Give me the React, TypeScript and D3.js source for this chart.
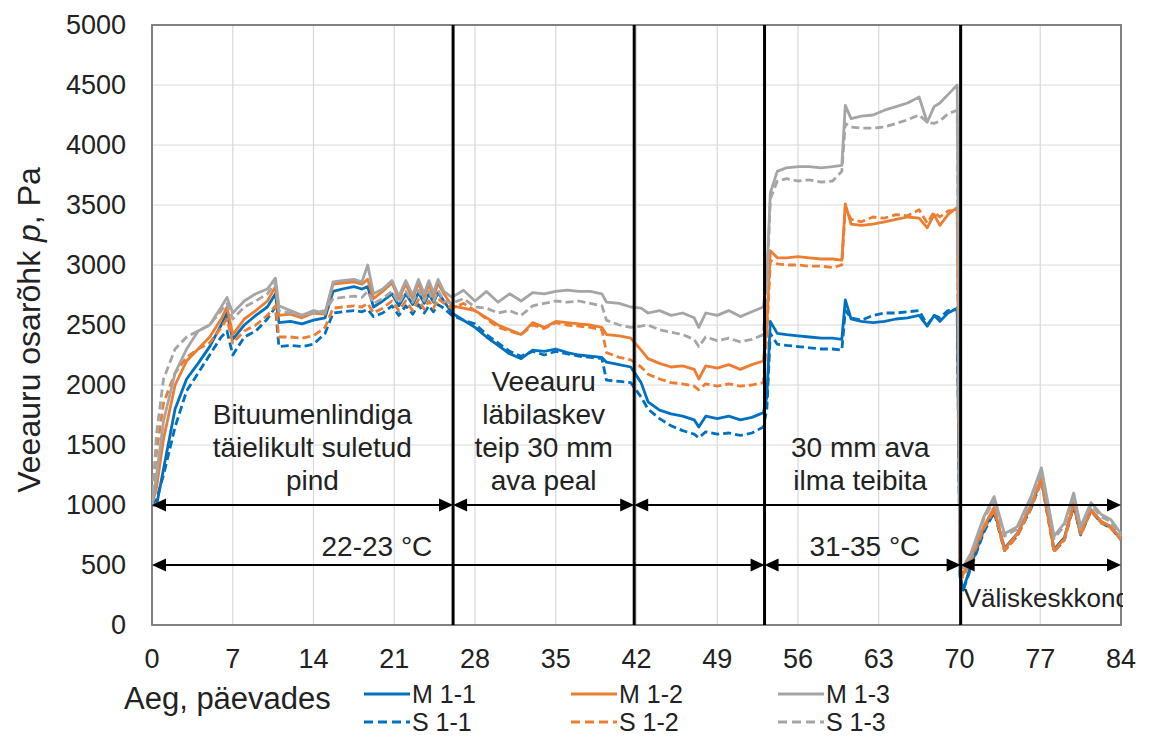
import React from 'react';
import * as d3 from 'd3';

// time axis, days (shared by every series)
const days = [
  0, 0.4, 1, 2, 3, 4, 5, 6, 6.5, 7,
  8, 9, 10, 10.7, 11, 12, 13, 14, 15, 15.7,
  16.5, 17.5, 18.2, 18.7, 19.2, 20, 20.8, 21.4, 22, 22.6,
  23.1, 23.6, 24, 24.4, 24.8, 25.3, 26, 27, 28, 29,
  30, 31, 32, 33, 34, 35, 36, 37, 38, 39,
  39.4, 40.5, 41.5, 42.4, 43, 44, 45, 46, 47, 47.4,
  48, 49, 50, 51, 52, 53, 53.3, 53.6, 54.2, 55,
  56, 57, 58, 59, 59.8, 60.1, 60.6, 61.5, 62.5, 63.5,
  64.5, 65.5, 66.5, 67.2, 67.8, 68.3, 69, 69.8, 70.05, 70.3,
  71, 72.1, 73, 73.9, 75, 76.2, 77.1, 77.7, 78.2, 79.1,
  79.9, 80.5, 81.4, 82.3, 83.1, 84,
];

const m11 = [
  1000, 1000, 1300, 1800, 2050, 2180, 2320, 2500, 2600, 2380,
  2500, 2580, 2650, 2760, 2520, 2530, 2510, 2540, 2560, 2780,
  2800, 2820, 2800, 2820, 2650, 2700, 2760, 2660, 2760, 2670,
  2770, 2680, 2760, 2690, 2770, 2700, 2600, 2540, 2480, 2400,
  2330, 2260, 2220, 2290, 2280, 2300, 2270, 2250, 2240, 2230,
  2190, 2170, 2150, 2020, 1860, 1790, 1760, 1740, 1710, 1650,
  1740, 1720, 1740, 1710, 1730, 1770, 1900, 2530, 2430, 2420,
  2410, 2400, 2390, 2390, 2380, 2710, 2550, 2530, 2520, 2530,
  2550, 2560, 2580, 2490, 2580, 2530, 2600, 2640, 420, 290,
  500, 790, 960, 640, 760, 990, 1220, 900, 630, 730,
  1010, 760, 960, 860, 820, 720,
];
const m12 = [
  1000, 1150, 1550, 2000, 2200, 2300, 2400, 2550, 2650, 2420,
  2550, 2620, 2700, 2820, 2580, 2590, 2560, 2600, 2590, 2840,
  2850, 2860, 2840, 2880, 2720, 2780, 2850, 2720, 2840, 2720,
  2850, 2730, 2840, 2730, 2850, 2760, 2660, 2640, 2620, 2560,
  2500, 2460, 2420, 2520, 2480, 2530, 2520, 2510, 2500, 2480,
  2420, 2410, 2390, 2290, 2220, 2180, 2150, 2160, 2130, 2050,
  2160, 2140, 2170, 2130, 2170, 2200, 2500, 3120, 3060, 3060,
  3070, 3060, 3050, 3050, 3040, 3510, 3340, 3330, 3340, 3360,
  3380, 3400, 3390, 3310, 3420, 3330, 3420, 3480, 470, 420,
  560, 820, 980, 630, 760, 1000, 1230, 900, 620, 720,
  1020, 760, 960, 860, 820, 720,
];
const m13 = [
  1000, 1250, 1700, 2100, 2300, 2450, 2500, 2650, 2730, 2600,
  2700, 2760, 2800, 2890, 2660, 2620, 2580, 2620, 2600, 2860,
  2870, 2880, 2860, 3000, 2760, 2800, 2870, 2740, 2870, 2750,
  2880, 2760, 2870, 2770, 2880, 2780, 2730, 2790, 2700, 2780,
  2690, 2760, 2700, 2770, 2760, 2780, 2790, 2780, 2780, 2760,
  2690, 2680, 2650, 2640, 2600, 2620, 2580, 2600, 2560, 2480,
  2600, 2580, 2620, 2570, 2610, 2650, 2900, 3600, 3780, 3810,
  3820, 3820, 3810, 3820, 3830, 4330, 4220, 4240, 4250, 4290,
  4320, 4350, 4400, 4190, 4320, 4350, 4420, 4500, 500, 480,
  600, 900, 1070, 760, 820, 1070, 1310, 1000, 740, 850,
  1100, 820, 1020, 920, 880, 760,
];
const s11 = [
  1000, 1050, 1250, 1650, 1950, 2100, 2250, 2400, 2450, 2250,
  2400, 2450, 2550, 2650, 2320, 2330, 2320, 2340, 2430, 2600,
  2610, 2620, 2610, 2630, 2570, 2600, 2660, 2580, 2660, 2590,
  2670, 2600, 2660, 2610, 2670, 2640, 2580, 2540, 2510, 2420,
  2350, 2280, 2240, 2280, 2250, 2280, 2260, 2240, 2230, 2220,
  2040, 2030, 2020, 1900, 1800, 1720, 1660, 1620, 1590, 1560,
  1610, 1590, 1600, 1580, 1600, 1650, 1800, 2430, 2340, 2330,
  2320, 2310, 2300, 2300, 2290, 2620, 2560, 2540, 2580, 2600,
  2600, 2610, 2620, 2500, 2580, 2560, 2620, 2630, 400, 280,
  480, 770, 940, 620, 740, 970, 1200, 880, 610, 710,
  990, 750, 950, 850, 810, 710,
];
const s12 = [
  1000, 1450, 1850, 2100, 2230, 2300, 2350, 2480, 2550, 2350,
  2450, 2500, 2580, 2660, 2400, 2400, 2390, 2410, 2480, 2640,
  2650, 2660, 2650, 2680, 2600, 2640, 2700, 2620, 2700, 2620,
  2710, 2630, 2700, 2640, 2720, 2680, 2640, 2680, 2620, 2550,
  2480, 2450, 2420, 2500, 2470, 2520, 2500, 2490, 2480, 2460,
  2270, 2230, 2210, 2150, 2090, 2050, 2020, 2010, 1990, 1960,
  2010, 1990, 2010, 1990, 2000, 2020, 2400, 3040, 3010, 3000,
  3000, 2990, 2990, 2980, 3000, 3480, 3380, 3360, 3400, 3390,
  3420, 3410, 3460, 3350, 3440, 3400, 3450, 3460, 460, 400,
  540, 800, 960, 620, 740, 980, 1200, 880, 610, 710,
  1000, 750, 950, 850, 810, 710,
];
const s13 = [
  1000, 1600, 2050, 2300, 2400, 2450, 2500, 2620, 2680, 2550,
  2650, 2700, 2760, 2850, 2620, 2600, 2580, 2600, 2620, 2720,
  2730, 2740, 2730, 2780, 2680, 2720, 2780, 2680, 2780, 2690,
  2790, 2700, 2780, 2700, 2790, 2700, 2680, 2720, 2650, 2640,
  2600, 2620, 2580, 2660, 2680, 2700, 2690, 2700, 2680, 2660,
  2540, 2500, 2480, 2490, 2500, 2460, 2440, 2420, 2380, 2320,
  2400, 2370, 2390, 2360, 2380, 2420, 2800, 3550, 3700, 3720,
  3700, 3710, 3690, 3700, 3780, 4180, 4150, 4140, 4140, 4150,
  4180, 4210, 4250, 4190, 4180, 4200, 4260, 4290, 480, 460,
  580, 880, 1040, 740, 800, 1040, 1280, 980, 720, 830,
  1080, 800, 1000, 900, 860, 740,
];

const seriesNames = ['M 1-1', 'M 1-2', 'M 1-3', 'S 1-1', 'S 1-2', 'S 1-3'];
const seriesValues = [m11, m12, m13, s11, s12, s13];
const seriesColors = ['#0070C0', '#ED7D31', '#A5A5A5', '#0070C0', '#ED7D31', '#A5A5A5'];
const drawOrder = [0, 3, 1, 4, 2, 5];

const xTickValues = [0, 7, 14, 21, 28, 35, 42, 49, 56, 63, 70, 77, 84];
const yTickValues = [0, 500, 1000, 1500, 2000, 2500, 3000, 3500, 4000, 4500, 5000];

// test phase boundaries (days)
const phaseBreaks = [26.1, 41.8, 53.1, 70.1];
// arrows: [from day, to day] at a pressure level
const upperArrows = [[0, 26.1], [26.1, 41.8], [41.8, 84]];
const lowerArrows = [[0, 53.1], [53.1, 70.1], [70.1, 84]];
const upperLevel = 1000;
const lowerLevel = 500;

const phaseLabels = [
  { day: 13.9, lines: ['Bituumenlindiga', 'täielikult suletud', 'pind'] },
  { day: 33.95, lines: ['Veeauru', 'läbilaskev', 'teip 30 mm', 'ava peal'] },
  { day: 61.4, lines: ['30 mm ava', 'ilma teibita'] },
];
const tempLabels = [
  { day: 19.5, text: '22-23 °C' },
  { day: 61.8, text: '31-35 °C' },
];

const W = 1149;
const H = 740;
const FONT = '"Liberation Sans", Arial, sans-serif';

export default function App() {
  const x = d3.scaleLinear().domain([0, 84]).range([152, 1121]);
  const y = d3.scaleLinear().domain([0, 5000]).range([625, 25]);

  const lineGen = d3
    .line<number>()
    .x((_, i) => x(days[i]))
    .y((d) => y(d));

  const arrowHead = (px: number, py: number, dir: number) => {
    const L = 14, h = 6.5;
    return `M${px},${py} L${px - dir * L},${py - h} L${px - dir * L},${py + h} Z`;
  };

  const drawArrow = (a: number[], level: number, key: string) => {
    const x0 = x(a[0]), x1 = x(a[1]), yy = y(level);
    return (
      <g key={key}>
        <line x1={x0 + 4} x2={x1 - 4} y1={yy} y2={yy} stroke="#000" strokeWidth={2} />
        <path d={arrowHead(x0, yy, -1)} fill="#000" />
        <path d={arrowHead(x1, yy, 1)} fill="#000" />
      </g>
    );
  };

  const lineH = 33;

  return (
    <svg width={W} height={H} style={{ position: 'absolute', left: 0, top: 0, background: '#fff' }} fontFamily={FONT}>
      <defs>
        <clipPath id="plotClip">
          <rect x={x(0)} y={y(5000)} width={x(84) - x(0) + 2} height={y(0) - y(5000)} />
        </clipPath>
      </defs>

      {/* grid */}
      {yTickValues.map((v) => (
        <line key={'gy' + v} x1={x(0)} x2={x(84)} y1={y(v)} y2={y(v)} stroke="#D9D9D9" strokeWidth={1.2} />
      ))}
      {xTickValues.map((v) => (
        <line key={'gx' + v} x1={x(v)} x2={x(v)} y1={y(0)} y2={y(5000)} stroke="#D9D9D9" strokeWidth={1.2} />
      ))}
      <rect x={x(0)} y={y(5000)} width={x(84) - x(0)} height={y(0) - y(5000)} fill="none" stroke="#767676" strokeWidth={1.8} />

      {/* series */}
      <g clipPath="url(#plotClip)">
        {drawOrder.map((i) => (
          <path
            key={seriesNames[i]}
            d={lineGen(seriesValues[i]) || ''}
            fill="none"
            stroke={seriesColors[i]}
            strokeWidth={2.8}
            strokeDasharray={i >= 3 ? '8,4' : undefined}
            strokeLinejoin="round"
          />
        ))}
      </g>

      {/* phase boundaries */}
      {phaseBreaks.map((d) => (
        <line key={'pb' + d} x1={x(d)} x2={x(d)} y1={y(5000)} y2={y(0)} stroke="#000" strokeWidth={3} />
      ))}

      {/* arrows */}
      {upperArrows.map((a, i) => drawArrow(a, upperLevel, 'ua' + i))}
      {lowerArrows.map((a, i) => drawArrow(a, lowerLevel, 'la' + i))}

      {/* phase labels, bottom line sits just above the upper arrow */}
      {phaseLabels.map((p, i) => (
        <text key={'pl' + i} x={x(p.day)} textAnchor="middle" fontSize={28} fill="#222">
          {p.lines.map((t, j) => (
            <tspan key={j} x={x(p.day)} y={y(upperLevel) - 15 - (p.lines.length - 1 - j) * lineH}>
              {t}
            </tspan>
          ))}
        </text>
      ))}
      {tempLabels.map((t, i) => (
        <text key={'tl' + i} x={x(t.day)} y={y(lowerLevel) - 9} textAnchor="middle" fontSize={28} fill="#222">
          {t.text}
        </text>
      ))}
      <g clipPath="url(#plotClip)">
        <text x={x(70.1) + 3} y={y(lowerLevel) + 42} fontSize={26} fill="#222">
          Väliskeskkond
        </text>
      </g>

      {/* y ticks */}
      {yTickValues.map((v) => (
        <text key={'yt' + v} x={126} y={y(v)} dy="0.35em" textAnchor="end" fontSize={27} fill="#222">
          {v}
        </text>
      ))}
      {/* x ticks */}
      {xTickValues.map((v) => (
        <text key={'xt' + v} x={x(v)} y={668} textAnchor="middle" fontSize={27} fill="#222">
          {v}
        </text>
      ))}

      {/* y axis title */}
      <text transform={`translate(40, ${y(2500) + 5}) rotate(-90)`} textAnchor="middle" fontSize={32} fill="#222">
        Veeauru osarõhk <tspan fontStyle="italic">p</tspan>, Pa
      </text>

      {/* x axis title */}
      <text x={124} y={709} fontSize={31} fill="#222">
        Aeg, päevades
      </text>

      {/* legend */}
      {seriesNames.map((name, i) => {
        const col = i % 3;
        const row = Math.floor(i / 3);
        const lx = 364 + col * 207;
        const ly = 694 + row * 28;
        return (
          <g key={'lg' + name}>
            <line
              x1={lx}
              x2={lx + 46}
              y1={ly}
              y2={ly}
              stroke={seriesColors[i]}
              strokeWidth={3}
              strokeDasharray={row === 1 ? '9,5' : undefined}
            />
            <text x={lx + 48} y={ly + 8.5} fontSize={25} fill="#222">
              {name}
            </text>
          </g>
        );
      })}
    </svg>
  );
}
